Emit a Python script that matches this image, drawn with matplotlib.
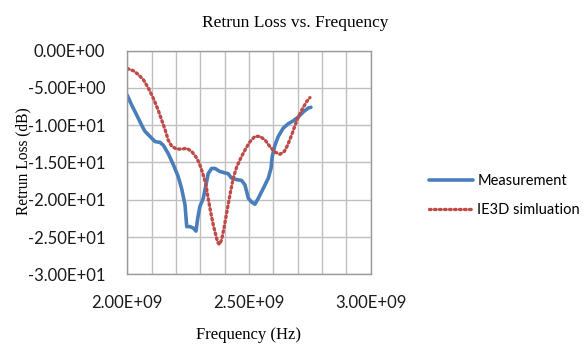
import matplotlib
matplotlib.use('Agg')
import matplotlib.pyplot as plt
from matplotlib.ticker import MultipleLocator, FuncFormatter

# Measured return loss (frequency in GHz, return loss in dB)
meas_freq = [2.000, 2.018, 2.038, 2.059, 2.072, 2.093, 2.114, 2.134, 2.148, 2.168,
             2.189, 2.209, 2.223, 2.237, 2.244, 2.257, 2.271, 2.282, 2.289, 2.298,
             2.312, 2.323, 2.332, 2.346, 2.360, 2.380, 2.401, 2.414, 2.428, 2.449,
             2.469, 2.483, 2.497, 2.510, 2.524, 2.538, 2.558, 2.579, 2.590, 2.595,
             2.606, 2.620, 2.640, 2.661, 2.682, 2.702, 2.723, 2.743, 2.754]
meas_db = [-6.0, -7.3, -8.6, -10.0, -10.8, -11.5, -12.2, -12.3, -12.7, -13.8,
           -15.3, -16.9, -18.5, -20.7, -23.6, -23.6, -23.8, -24.2, -22.5, -20.9,
           -19.8, -18.0, -16.5, -15.8, -15.8, -16.2, -16.4, -16.5, -17.1, -17.3,
           -17.4, -18.0, -19.8, -20.3, -20.6, -19.8, -18.5, -17.1, -15.8, -14.2,
           -12.7, -11.5, -10.4, -9.8, -9.4, -8.9, -8.2, -7.7, -7.6]

# IE3D simulated return loss
sim_freq = [2.000, 2.025, 2.045, 2.066, 2.086, 2.107, 2.127, 2.141, 2.155, 2.168,
            2.182, 2.202, 2.223, 2.244, 2.264, 2.285, 2.298, 2.312, 2.323, 2.332,
            2.342, 2.353, 2.363, 2.371, 2.378, 2.387, 2.397, 2.405, 2.414, 2.424,
            2.435, 2.449, 2.469, 2.487, 2.504, 2.524, 2.545, 2.566, 2.586, 2.606,
            2.627, 2.645, 2.658, 2.675, 2.689, 2.702, 2.719, 2.737, 2.750]
sim_db = [-2.4, -2.7, -3.2, -3.9, -5.0, -6.4, -8.0, -9.3, -10.6, -12.0,
          -12.8, -13.2, -13.2, -13.1, -13.5, -14.4, -15.3, -16.7, -18.0, -19.8,
          -21.6, -23.4, -24.7, -25.7, -26.0, -25.4, -23.8, -22.3, -20.7, -18.9,
          -17.1, -15.6, -14.2, -13.1, -12.2, -11.5, -11.5, -12.0, -12.9, -13.6,
          -13.9, -13.5, -12.7, -11.3, -10.0, -8.9, -7.8, -6.8, -6.3]

serif = 'Liberation Serif'
sans = 'Lato'

fig = plt.figure(figsize=(5.84, 3.47), dpi=100)
ax = fig.add_axes([0.218, 0.2095, 0.417, 0.6445])

ax.plot([f * 1e9 for f in meas_freq], meas_db, color='#4A7EBB', lw=2.6,
        solid_capstyle='round', label='Measurement')
ax.plot([f * 1e9 for f in sim_freq], sim_db, color='#BE4B48', lw=2.4,
        linestyle=(0, (0.5, 1.0)), dash_capstyle='round', label='IE3D simluation')

ax.set_xlim(2.0e9, 3.0e9)
ax.set_ylim(-30, 0)
ax.xaxis.set_major_locator(MultipleLocator(0.5e9))
ax.xaxis.set_minor_locator(MultipleLocator(0.1e9))
ax.yaxis.set_major_locator(MultipleLocator(5))
sci = FuncFormatter(lambda v, pos: '{:.2E}'.format(v))
ax.xaxis.set_major_formatter(sci)
ax.yaxis.set_major_formatter(sci)

ax.grid(True, which='both', color='#BFBFBF', lw=1.0)
ax.set_axisbelow(True)
for s in ax.spines.values():
    s.set_color('#9A9A9A')
    s.set_linewidth(1.0)
ax.tick_params(which='both', length=0, labelsize=12, colors='#1a1a1a')
ax.tick_params(axis='y', pad=16)
ax.tick_params(axis='x', pad=15)
for lbl in ax.get_xticklabels() + ax.get_yticklabels():
    lbl.set_family(sans)

ax.set_title('Retrun Loss vs. Frequency', fontfamily=serif, fontsize=12.5, pad=17,
             x=0.69)
ax.set_xlabel('Frequency (Hz)', fontfamily=serif, fontsize=12)
ax.xaxis.set_label_coords(0.499, -0.235)
ax.set_ylabel('Retrun Loss (dB)', fontfamily=serif, fontsize=11.2)
ax.yaxis.set_label_coords(-0.395, 0.504)

ax.legend(loc='center left', bbox_to_anchor=(0.725, 0.437), bbox_transform=fig.transFigure,
          frameon=False, prop={'family': sans, 'size': 10.5}, handlelength=3.0,
          handletextpad=0.3, labelspacing=1.0, borderaxespad=0)

plt.savefig('out.png', dpi=100)
plt.close()
